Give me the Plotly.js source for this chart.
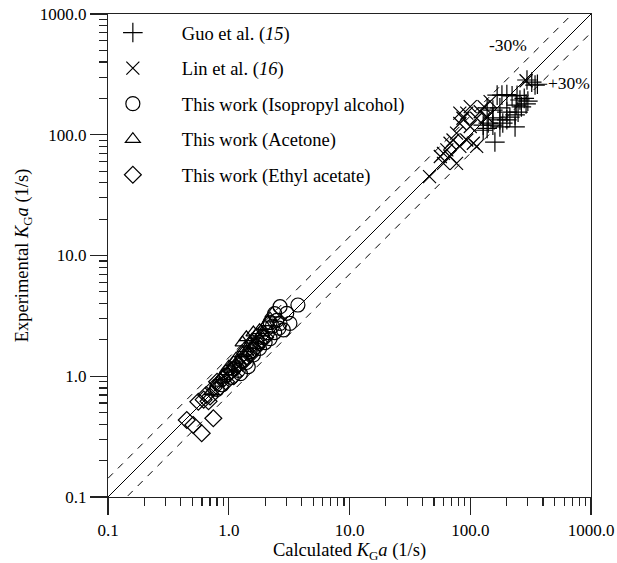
<!DOCTYPE html>
<html>
<head>
<meta charset="utf-8">
<script src="https://cdn.plot.ly/plotly-3.0.1.min.js"></script>
<style>
  html, body { margin: 0; padding: 0; background: #fff; }
  #chart { width: 617px; height: 563px; }
</style>
</head>
<body>
<div id="chart"></div>
<script>
// Guo et al. (15): calculated vs experimental KGa (1/s)
const guoCalc = [295, 344, 323, 360, 167, 183, 201, 222, 244, 258, 280, 300, 240, 265, 290,
  138, 154, 176, 201, 235, 249, 154, 176, 201, 213, 128, 141, 154, 176, 186, 235, 128, 138, 160];
const guoExp = [284, 258, 273, 262, 213, 213, 215, 210, 212, 194, 200, 190, 176, 170, 180,
  167, 160, 167, 154, 146, 154, 138, 133, 133, 140, 120, 125, 120, 116, 125, 116, 109, 113, 87];

// Lin et al. (16)
const linCalc = [146, 130, 121, 113, 93.5, 87, 82, 100, 77, 72, 68, 64, 60, 56.5, 68, 77,
  93.5, 106, 113, 82, 60, 46, 137, 100, 82, 290];
const linExp = [188, 171, 155, 137, 151, 137, 124, 117, 103, 90.5, 85, 75, 70, 66, 66, 58,
  90.5, 85, 80, 80, 58, 45, 141, 171, 151, 280];

// This work: isopropyl alcohol
const ipaCalc = [0.80, 0.88, 0.95, 1.05, 1.10, 1.20, 1.30, 1.40, 1.50, 1.60, 1.70, 1.80, 1.90,
  2.00, 2.10, 2.20, 2.30, 2.40, 2.50, 2.60, 2.66, 3.02, 2.66, 3.21, 2.83, 3.74, 2.40, 2.20, 1.25, 1.45];
const ipaExp = [0.78, 0.85, 1.02, 0.98, 1.15, 1.12, 1.35, 1.30, 1.60, 1.50, 1.85, 1.70, 2.10,
  1.90, 2.30, 2.05, 2.60, 2.30, 2.90, 2.50, 3.77, 3.32, 2.74, 2.74, 2.42, 3.89, 3.30, 2.80, 1.05, 1.20];

// This work: acetone
const aceCalc = [0.72, 0.80, 0.85, 0.90, 0.95, 1.00, 1.05, 1.10, 1.15, 1.20, 1.30, 1.35, 1.40,
  1.50, 1.55, 1.60, 1.70, 1.80, 1.90, 2.00, 2.10, 2.20, 1.30, 1.40, 1.60, 2.30];
const aceExp = [0.75, 0.88, 0.95, 1.00, 1.10, 1.20, 1.15, 1.30, 1.40, 1.35, 1.55, 1.70, 1.60,
  1.85, 2.00, 1.80, 2.20, 2.40, 2.30, 2.60, 2.80, 3.00, 1.90, 2.10, 2.30, 3.30];

// This work: ethyl acetate
const eaCalc = [0.449, 0.508, 0.597, 0.745, 0.56, 0.62, 0.70, 0.75, 0.80, 0.85, 0.90, 0.95,
  1.00, 1.05, 1.10, 1.15, 1.20, 1.30, 1.40, 1.50, 1.60, 1.70, 1.80, 1.90, 2.00, 0.68, 0.65];
const eaExp = [0.434, 0.395, 0.337, 0.449, 0.615, 0.64, 0.68, 0.80, 0.90, 0.82, 0.95, 0.90,
  1.05, 1.10, 1.00, 1.20, 1.25, 1.30, 1.45, 1.50, 1.65, 1.75, 1.90, 2.00, 2.10, 0.62, 0.70];

// Parity line and the ±30% deviation bands
const parityX = [0.1, 1000];
const minus30Factor = 1 / 0.7;
const plus30Factor = 0.7;

// Decade labels and the in-between minor tick positions
const tickVals = [0.1, 1, 10, 100, 1000];
const tickText = ['0.1', '1.0', '10.0', '100.0', '1000.0'];
const minorTickVals = [
  0.2, 0.3, 0.4, 0.5, 0.6, 0.7, 0.8, 0.9,
  2, 3, 4, 5, 6, 7, 8, 9,
  20, 30, 40, 50, 60, 70, 80, 90,
  200, 300, 400, 500, 600, 700, 800, 900
];

const FONT = 'Liberation Serif';
const INK = '#000';

function pts(name, x, y, symbol, size, group) {
  return {
    type: 'scatter', mode: 'markers', name: name, x: x, y: y,
    legendgroup: group, cliponaxis: true,
    marker: { symbol: symbol, size: size, color: INK, line: { color: INK, width: 1.2 } }
  };
}

function refLine(y, dash) {
  return {
    type: 'scatter', mode: 'lines', x: parityX, y: y, showlegend: false, hoverinfo: 'skip',
    line: { color: INK, width: 1, dash: dash }
  };
}

const traces = [
  refLine(parityX.map(v => v), 'solid'),
  refLine(parityX.map(v => v * minus30Factor), '7px,7px'),
  refLine(parityX.map(v => v * plus30Factor), '7px,7px'),
  pts('Guo et al. (<i>15</i>)', guoCalc, guoExp, 'cross-thin-open', 14, 'g1'),
  pts('Lin et al. (<i>16</i>)', linCalc, linExp, 'x-thin-open', 13, 'g2'),
  pts('This work (Isopropyl alcohol)', ipaCalc, ipaExp, 'circle-open', 14, 'g3'),
  pts('This work (Acetone)', aceCalc, aceExp, 'triangle-up-open', 13, 'g4'),
  pts('This work (Ethyl acetate)', eaCalc, eaExp, 'diamond-open', 13, 'g5')
];

function axis(title, standoff) {
  return {
    type: 'log', range: [-1, 3],
    tickmode: 'array', tickvals: tickVals, ticktext: tickText,
    ticks: 'outside', ticklen: 17, tickwidth: 1.2, tickcolor: '#222',
    minor: {
      tickmode: 'array', tickvals: minorTickVals,
      ticks: 'outside', ticklen: 8, tickwidth: 1.2, tickcolor: '#222', showgrid: false
    },
    showgrid: false, zeroline: false,
    showline: true, linecolor: '#222', linewidth: 1.2, mirror: true,
    tickfont: { family: FONT, size: 17, color: INK },
    title: { text: title, font: { family: FONT, size: 18.5, color: INK }, standoff: standoff }
  };
}

const layout = {
  width: 617, height: 563,
  margin: { l: 108, r: 26, t: 14, b: 66 },
  paper_bgcolor: '#fff', plot_bgcolor: '#fff',
  font: { family: FONT, size: 17, color: INK },
  showlegend: true,
  legend: {
    x: -0.05, y: 1.0, xanchor: 'left', yanchor: 'top',
    bgcolor: 'rgba(0,0,0,0)', borderwidth: 0,
    font: { family: FONT, size: 18.5, color: INK },
    itemwidth: 88, tracegroupgap: 8.5, itemsizing: 'trace'
  },
  xaxis: axis('Calculated <i>K</i><sub>G</sub><i>a</i> (1/s)', 4),
  yaxis: axis('Experimental <i>K</i><sub>G</sub><i>a</i> (1/s)', 6),
  annotations: [
    { x: 2.313, y: 2.743, xref: 'x', yref: 'y', text: '-30%', showarrow: false,
      font: { family: FONT, size: 17.5, color: INK } },
    { x: 2.818, y: 2.429, xref: 'x', yref: 'y', text: '+30%', showarrow: false,
      font: { family: FONT, size: 17.5, color: INK } }
  ]
};

Plotly.newPlot('chart', traces, layout, { displayModeBar: false, staticPlot: true });
</script>
</body>
</html>
